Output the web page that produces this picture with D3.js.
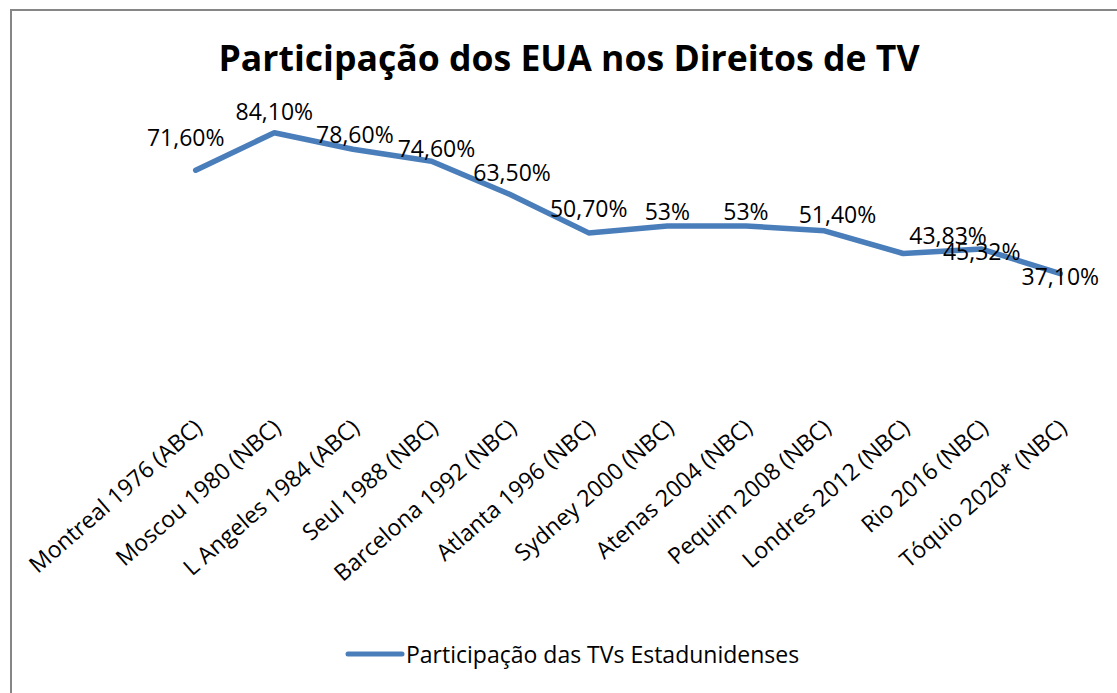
<!DOCTYPE html>
<html>
<head>
<meta charset="utf-8">
<script src="https://cdn.jsdelivr.net/npm/d3@7"></script>
<style>
  body { margin: 0; background: #fff; }
  svg { display: block; font-family: "Open Sans", sans-serif; }
  .title { font-weight: 700; font-size: 35.6px; fill: #000; }
  .dlabel { font-size: 23px; fill: #000; }
  .cat { font-size: 23px; fill: #000; }
  .legend-text { font-size: 23px; fill: #000; }
</style>
</head>
<body>
<svg id="chart"></svg>
<script>
const categories = [
  'Montreal 1976 (ABC)', 'Moscou 1980 (NBC)', 'L Angeles 1984 (ABC)', 'Seul 1988 (NBC)',
  'Barcelona 1992 (NBC)', 'Atlanta 1996 (NBC)', 'Sydney 2000 (NBC)', 'Atenas 2004 (NBC)',
  'Pequim 2008 (NBC)', 'Londres 2012 (NBC)', 'Rio 2016 (NBC)', 'Tóquio 2020* (NBC)'
];
const shares = [71.6, 84.1, 78.6, 74.6, 63.5, 50.7, 53, 53, 51.4, 43.83, 45.32, 37.1];
const shareLabels = ['71,60%', '84,10%', '78,60%', '74,60%', '63,50%', '50,70%', '53%', '53%',
  '51,40%', '43,83%', '45,32%', '37,10%'];
const seriesName = 'Participação das TVs Estadunidenses';
const title = 'Participação dos EUA nos Direitos de TV';

// hand-placed label nudges (dx, dy) like in the original sheet
const labelNudge = [[-10, -24], [0, -13], [2, -6], [5, -4], [2, -14], [0, -16], [0, -6], [0, -6],
  [13, -8], [45, -10], [0, 11], [0, 11]];

const W = 1117, H = 693;
const color = '#4a7ebb';

const svg = d3.select('#chart').attr('width', W).attr('height', H);

svg.append('rect').attr('x', 11).attr('y', 10).attr('width', 1200).attr('height', 800)
  .attr('fill', '#fff').attr('stroke', '#868686').attr('stroke-width', 2);

svg.append('text').attr('class', 'title').attr('x', 569).attr('y', 71)
  .attr('text-anchor', 'middle').text(title);

const x = d3.scalePoint().domain(categories).range([156.4, 1099.6]).padding(0.5);
const y = d3.scaleLinear().domain([0, 100]).range([385, 85]);

const line = d3.line().x((d, i) => x(categories[i])).y((d) => y(d));

svg.append('path').datum(shares).attr('d', line)
  .attr('fill', 'none').attr('stroke', color).attr('stroke-width', 5.5)
  .attr('stroke-linejoin', 'round').attr('stroke-linecap', 'round');

svg.selectAll('.dlabel').data(shares).enter().append('text')
  .attr('class', 'dlabel')
  .attr('x', (d, i) => x(categories[i]) + labelNudge[i][0])
  .attr('y', (d, i) => y(d) + labelNudge[i][1])
  .attr('text-anchor', 'middle')
  .text((d, i) => shareLabels[i]);

svg.selectAll('.cat').data(categories).enter().append('text')
  .attr('class', 'cat')
  .attr('transform', (d) => `translate(${x(d) + 8},430) rotate(-41)`)
  .attr('text-anchor', 'end')
  .text((d) => d);

const lg = svg.append('g');
lg.append('line').attr('x1', 348).attr('x2', 402).attr('y1', 654).attr('y2', 654)
  .attr('stroke', color).attr('stroke-width', 5).attr('stroke-linecap', 'round');
lg.append('text').attr('class', 'legend-text').attr('x', 406).attr('y', 663).text(seriesName);
</script>
</body>
</html>
